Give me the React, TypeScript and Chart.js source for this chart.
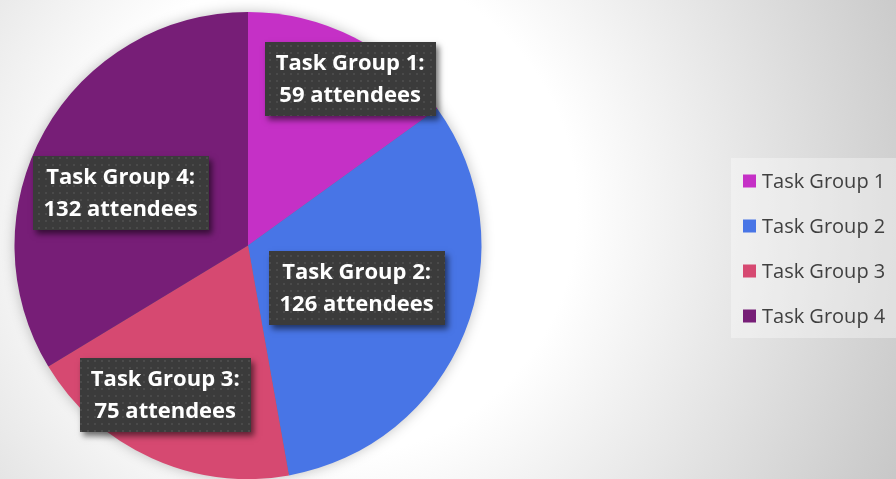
import React, { useEffect, useRef } from "react";
import { Chart, registerables } from "chart.js";

Chart.register(...registerables);

const categories = ["Task Group 1", "Task Group 2", "Task Group 3", "Task Group 4"];
const attendees = [59, 126, 75, 132];
const sliceColors = ["#C530C6", "#4875E6", "#D64971", "#771E77"];
const labelSuffix = "attendees";

// label placement (layout only): [fraction of radius, angle shift in degrees]
const labelPlacement = [
  [0.835, 4.5],
  [0.5, -0.5],
  [0.73, 4.7],
  [0.59, -7],
];

const W = 896;
const H = 479;
const LABEL_FONT = "bold 22px 'Open Sans', Lato, sans-serif";
const LEGEND_FONT = "20px 'Open Sans', Lato, sans-serif";

const backgroundPlugin = {
  id: "bgPlugin",
  beforeDraw(chart: any) {
    const { ctx, width, height } = chart;
    ctx.save();
    const g = ctx.createRadialGradient(330, 210, 0, 330, 210, 650);
    g.addColorStop(0, "#ffffff");
    g.addColorStop(0.38, "#ffffff");
    g.addColorStop(1, "#c4c4c4");
    ctx.fillStyle = g;
    ctx.fillRect(0, 0, width, height);
    ctx.restore();
  },
  beforeDatasetsDraw(chart: any) {
    const { ctx } = chart;
    const arc = chart.getDatasetMeta(0).data[0];
    if (!arc) return;
    const p = arc.getProps(["x", "y", "outerRadius"], true);
    ctx.save();
    ctx.shadowColor = "rgba(0,0,0,0.28)";
    ctx.shadowBlur = 14;
    ctx.fillStyle = "#777";
    ctx.beginPath();
    ctx.arc(p.x, p.y, p.outerRadius - 1, 0, Math.PI * 2);
    ctx.fill();
    ctx.restore();
  },
};

const labelPlugin = {
  id: "labelPlugin",
  afterDatasetsDraw(chart: any) {
    const { ctx } = chart;
    const meta = chart.getDatasetMeta(0);
    const tile = document.createElement("canvas");
    tile.width = 7;
    tile.height = 7;
    const t = tile.getContext("2d")!;
    t.fillStyle = "#3b3b3b";
    t.fillRect(0, 0, 7, 7);
    t.fillStyle = "#4a4a4a";
    t.fillRect(3, 3, 2, 2);
    const pattern = ctx.createPattern(tile, "repeat");

    meta.data.forEach((arc: any, i: number) => {
      const p = arc.getProps(["x", "y", "startAngle", "endAngle", "outerRadius"], true);
      const [frac, shift] = labelPlacement[i];
      const mid = (p.startAngle + p.endAngle) / 2 + (shift * Math.PI) / 180;
      const r = p.outerRadius * frac;
      const cx = p.x + Math.cos(mid) * r;
      const cy = p.y + Math.sin(mid) * r;
      const lines = [`${chart.data.labels[i]}:`, `${chart.data.datasets[0].data[i]} ${labelSuffix}`];
      ctx.save();
      ctx.font = LABEL_FONT;
      const tw = Math.max(...lines.map((l) => ctx.measureText(l).width));
      const bw = Math.round(tw + 22);
      const bh = 74;
      const bx = Math.round(cx - bw / 2);
      const by = Math.round(cy - bh / 2);
      ctx.shadowColor = "rgba(0,0,0,0.55)";
      ctx.shadowBlur = 6;
      ctx.shadowOffsetX = 3;
      ctx.shadowOffsetY = 4;
      ctx.fillStyle = "#3b3b3b";
      ctx.fillRect(bx, by, bw, bh);
      ctx.shadowColor = "transparent";
      ctx.fillStyle = pattern;
      ctx.fillRect(bx, by, bw, bh);
      ctx.fillStyle = "#ffffff";
      ctx.textAlign = "center";
      ctx.textBaseline = "middle";
      ctx.fillText(lines[0], cx, by + bh / 2 - 15);
      ctx.fillText(lines[1], cx, by + bh / 2 + 17);
      ctx.restore();
    });
  },
};

const legendPlugin = {
  id: "legendPlugin",
  afterDraw(chart: any) {
    const { ctx } = chart;
    const labels = chart.data.labels as string[];
    const colors = chart.data.datasets[0].backgroundColor as string[];
    ctx.save();
    ctx.fillStyle = "rgba(255,255,255,0.35)";
    ctx.fillRect(731, 158, 165, 180);
    ctx.font = LEGEND_FONT;
    ctx.textBaseline = "middle";
    ctx.textAlign = "left";
    labels.forEach((lab, i) => {
      const y = 181 + i * 45;
      ctx.fillStyle = colors[i];
      ctx.fillRect(743, y - 6.5, 13, 13);
      ctx.fillStyle = "#404040";
      ctx.fillText(lab, 762, y + 1);
    });
    ctx.restore();
  },
};

export default function App() {
  const ref = useRef<HTMLCanvasElement | null>(null);
  useEffect(() => {
    document.body.style.margin = "0";
    document.body.style.overflow = "hidden";
    const canvas = ref.current!;
    const chart = new Chart(canvas, {
      type: "pie",
      data: {
        labels: categories,
        datasets: [
          {
            data: attendees,
            backgroundColor: sliceColors,
            borderWidth: 0,
          },
        ],
      },
      options: {
        responsive: false,
        animation: false,
        devicePixelRatio: 1,
        layout: { padding: { left: 12, top: 12, right: W - 484, bottom: -5 } },
        plugins: {
          legend: { display: false },
          tooltip: { enabled: false },
        },
      },
      plugins: [backgroundPlugin, labelPlugin, legendPlugin],
    } as any);
    return () => chart.destroy();
  }, []);
  return <canvas ref={ref} width={W} height={H} style={{ display: "block", width: W, height: H }} />;
}
